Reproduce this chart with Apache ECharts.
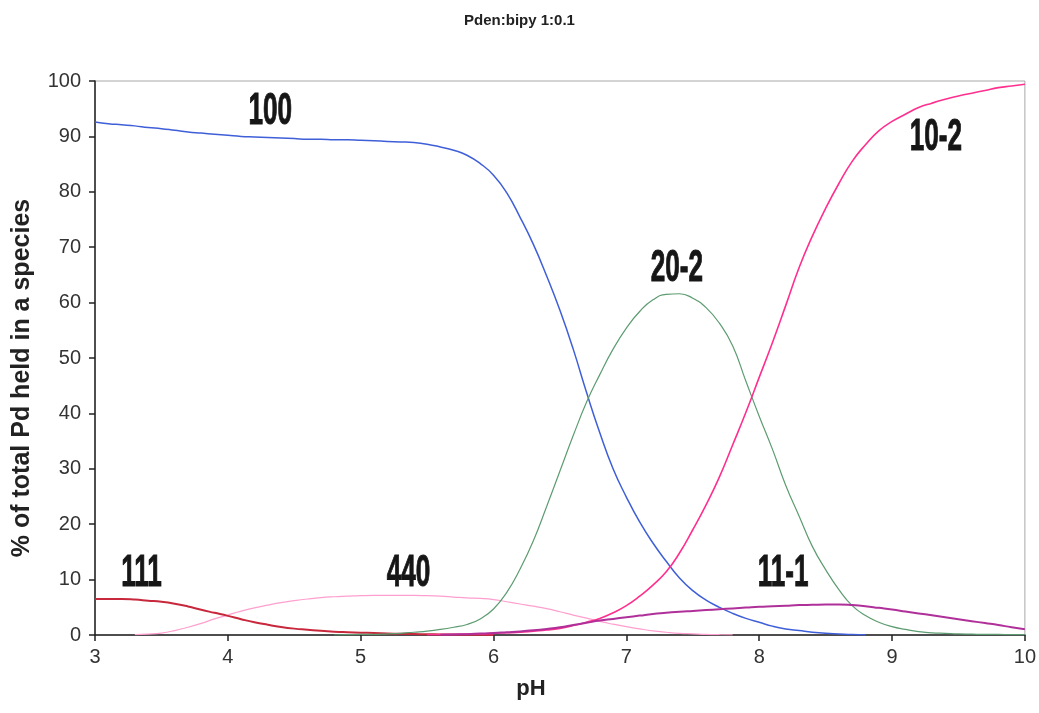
<!DOCTYPE html>
<html>
<head>
<meta charset="utf-8">
<title>Pden:bipy 1:0.1</title>
<script src="https://cdn.jsdelivr.net/npm/echarts@6/dist/echarts.min.js"></script>
<style>
  html, body { margin: 0; padding: 0; background: #fff; }
  #chart { width: 1039px; height: 713px; }
</style>
</head>
<body>
<div id="chart"></div>
<script>
// pH grid shared by every species curve
const ph = [
  3.0, 3.1, 3.2, 3.3, 3.4, 3.5, 3.6, 3.7, 3.8, 3.9,
  4.0, 4.1, 4.2, 4.3, 4.4, 4.5, 4.6, 4.7, 4.8, 4.9,
  5.0, 5.1, 5.2, 5.3, 5.4, 5.5, 5.6, 5.7, 5.8, 5.9,
  6.0, 6.1, 6.2, 6.3, 6.4, 6.5, 6.6, 6.7, 6.8, 6.9,
  7.0, 7.1, 7.2, 7.3, 7.4, 7.5, 7.6, 7.7, 7.8, 7.9,
  8.0, 8.1, 8.2, 8.3, 8.4, 8.5, 8.6, 8.7, 8.8, 8.9,
  9.0, 9.1, 9.2, 9.3, 9.4, 9.5, 9.6, 9.7, 9.8, 9.9,
  10.0
];

// % of total Pd in each species; each list starts at its own first pH
const start100 = 3.0;
const pct100 = [
  92.6, 92.3, 92.1, 91.9, 91.6, 91.4, 91.1, 90.8, 90.6, 90.4,
  90.2, 90.0, 89.9, 89.8, 89.7, 89.6, 89.5, 89.5, 89.4, 89.4,
  89.3, 89.2, 89.1, 89.0, 88.9, 88.6, 88.1, 87.5, 86.6, 85.1,
  83.0, 79.8, 75.4, 70.5, 64.8, 58.6, 51.6, 43.8, 36.5, 30.0,
  24.9, 20.4, 16.6, 13.3, 10.3, 8.0, 6.3, 5.0, 3.9, 3.0,
  2.3, 1.6, 1.1, 0.8, 0.5, 0.3, 0.2, 0.1, 0.05
];

const start111 = 3.0;
const pct111 = [
  6.5, 6.5, 6.5, 6.4, 6.2, 6.0, 5.65, 5.15, 4.55, 4.0,
  3.45, 2.85, 2.3, 1.85, 1.45, 1.15, 0.95, 0.75, 0.6, 0.5,
  0.42, 0.35, 0.28, 0.22, 0.17, 0.13, 0.1, 0.07, 0.05, 0.03,
  0.02
];

const start440 = 3.3;
const pct440 = [
  0.05, 0.15, 0.35, 0.8, 1.4, 2.1, 2.9,
  3.6, 4.3, 4.9, 5.4, 5.85, 6.2, 6.5, 6.75, 6.9, 7.0,
  7.1, 7.15, 7.15, 7.15, 7.15, 7.1, 7.0, 6.85, 6.7, 6.6,
  6.4, 6.0, 5.6, 5.2, 4.75, 4.2, 3.6, 3.05, 2.45, 1.95,
  1.5, 1.1, 0.75, 0.5, 0.3, 0.2, 0.1, 0.05, 0.02
];

const start202 = 4.8;
const pct202 = [
  0.0, 0.05,
  0.1, 0.1, 0.2, 0.3, 0.5, 0.7, 1.0, 1.4, 1.9, 2.9,
  4.7, 7.7, 11.9, 17.0, 23.2, 29.6, 36.0, 42.0, 47.0, 51.6,
  55.4, 58.4, 60.5, 61.5, 61.6, 60.8, 59.1, 56.3, 52.2, 45.8,
  39.5, 33.5, 27.0, 21.5, 16.0, 11.8, 8.2, 5.3, 3.5, 2.3,
  1.5, 1.0, 0.6, 0.4, 0.3, 0.2, 0.15, 0.1, 0.1, 0.05,
  0.05
];

const start102 = 5.5;
const pct102 = [
  0.05, 0.08, 0.1, 0.15, 0.2,
  0.3, 0.4, 0.5, 0.7, 0.9, 1.2, 1.7, 2.3, 3.0, 4.0,
  5.3, 7.0, 9.0, 11.4, 14.8, 19.0, 23.5, 28.5, 34.3, 40.2,
  46.5, 52.8, 59.5, 66.3, 72.0, 77.0, 81.5, 85.5, 88.5, 91.0,
  92.7, 94.0, 95.2, 96.0, 96.7, 97.3, 97.8, 98.3, 98.8, 99.1,
  99.4
];

const start111m = 5.6;
const pct111m = [
  0.05, 0.1, 0.15, 0.25,
  0.35, 0.5, 0.65, 0.85, 1.1, 1.4, 1.8, 2.2, 2.6, 2.9,
  3.2, 3.5, 3.8, 4.0, 4.2, 4.35, 4.5, 4.65, 4.8, 4.95,
  5.1, 5.2, 5.3, 5.4, 5.45, 5.5, 5.5, 5.4, 5.2, 4.9,
  4.6, 4.25, 3.9, 3.55, 3.2, 2.85, 2.5, 2.15, 1.8, 1.4,
  1.05
];

// species names written on the plot, placed at (pH, %)
const speciesLabels = [
  { text: '100',  ph: 4.32, pct: 94.4 },
  { text: '111',  ph: 3.35, pct: 11.0 },
  { text: '440',  ph: 5.36, pct: 11.0 },
  { text: '20-2', ph: 7.38, pct: 66.2 },
  { text: '10-2', ph: 9.33, pct: 89.8 },
  { text: '11-1', ph: 8.18, pct: 11.0 }
];

const xTicks = { min: 3, max: 10, step: 1 };
const yTicks = { min: 0, max: 100, step: 10 };

function pairs(startPh, values) {
  const i0 = ph.findIndex(p => Math.abs(p - startPh) < 1e-9);
  return values.map((v, i) => [ph[i0 + i], v]);
}

function curve(name, startPh, values, color, width) {
  return {
    name: name,
    type: 'line',
    data: pairs(startPh, values),
    showSymbol: false,
    smooth: true,
    lineStyle: { color: color, width: width },
    itemStyle: { color: color },
    emphasis: { disabled: true },
    silent: true
  };
}

const axisFont = '"Liberation Sans", Arial, sans-serif';

const option = {
  animation: false,
  backgroundColor: '#ffffff',
  title: {
    text: 'Pden:bipy 1:0.1',
    left: 'center',
    top: 8,
    textStyle: { fontFamily: axisFont, fontWeight: 'bold', fontSize: 15, color: '#222' }
  },
  grid: {
    left: 95, right: 11, top: 81, bottom: 78,
    show: true, borderColor: '#a8a8a8', borderWidth: 1, backgroundColor: 'transparent'
  },
  xAxis: {
    type: 'value',
    min: xTicks.min, max: xTicks.max, interval: xTicks.step,
    name: 'pH',
    nameLocation: 'middle',
    nameGap: 43,
    nameTextStyle: {
      fontFamily: axisFont, fontWeight: 'bold', fontSize: 22, color: '#222',
      verticalAlign: 'top', padding: [0, 58, 0, 0]
    },
    axisLine: { show: true, onZero: false, lineStyle: { color: '#222', width: 1.5 } },
    axisTick: { show: true, inside: false, length: 6, lineStyle: { color: '#222', width: 1.5 } },
    axisLabel: { margin: 12, fontFamily: axisFont, fontSize: 20, color: '#333' },
    splitLine: { show: false }
  },
  yAxis: {
    type: 'value',
    min: yTicks.min, max: yTicks.max, interval: yTicks.step,
    name: '% of total Pd held in a species',
    nameLocation: 'middle',
    nameRotate: 90,
    nameGap: 60,
    nameTextStyle: {
      fontFamily: axisFont, fontWeight: 'bold', fontSize: 25, color: '#222',
      padding: [0, 40, 0, 0]
    },
    axisLine: { show: true, lineStyle: { color: '#222', width: 1.5 } },
    axisTick: { show: true, inside: false, length: 6, lineStyle: { color: '#222', width: 1.5 } },
    axisLabel: { margin: 14, fontFamily: axisFont, fontSize: 20, color: '#333' },
    splitLine: { show: false }
  },
  series: [
    curve('440',  start440,  pct440,  '#ff9fcf', 1.2),
    curve('111',  start111,  pct111,  '#c8283c', 2),
    curve('100',  start100,  pct100,  '#3f5fd8', 1.5),
    curve('20-2', start202,  pct202,  '#5c9c70', 1.2),
    curve('10-2', start102,  pct102,  '#ff2f8e', 1.6),
    curve('11-1', start111m, pct111m, '#b0309a', 2)
  ]
};

const chart = echarts.init(document.getElementById('chart'), null, { renderer: 'canvas' });
chart.setOption(option);

// species names: heavy condensed lettering centred on their (pH, %) spots
const labelGraphics = speciesLabels.map(l => {
  const p = chart.convertToPixel({ gridIndex: 0 }, [l.ph, l.pct]);
  return {
    type: 'text',
    x: p[0],
    y: p[1],
    scaleX: 0.58,
    silent: true,
    style: {
      text: l.text,
      font: 'bold 45px "Liberation Sans Narrow", "Liberation Sans", Arial, sans-serif',
      fill: '#161616',
      stroke: '#161616',
      lineWidth: 1,
      align: 'center',
      verticalAlign: 'middle'
    }
  };
});
chart.setOption({ graphic: labelGraphics });
</script>
</body>
</html>
